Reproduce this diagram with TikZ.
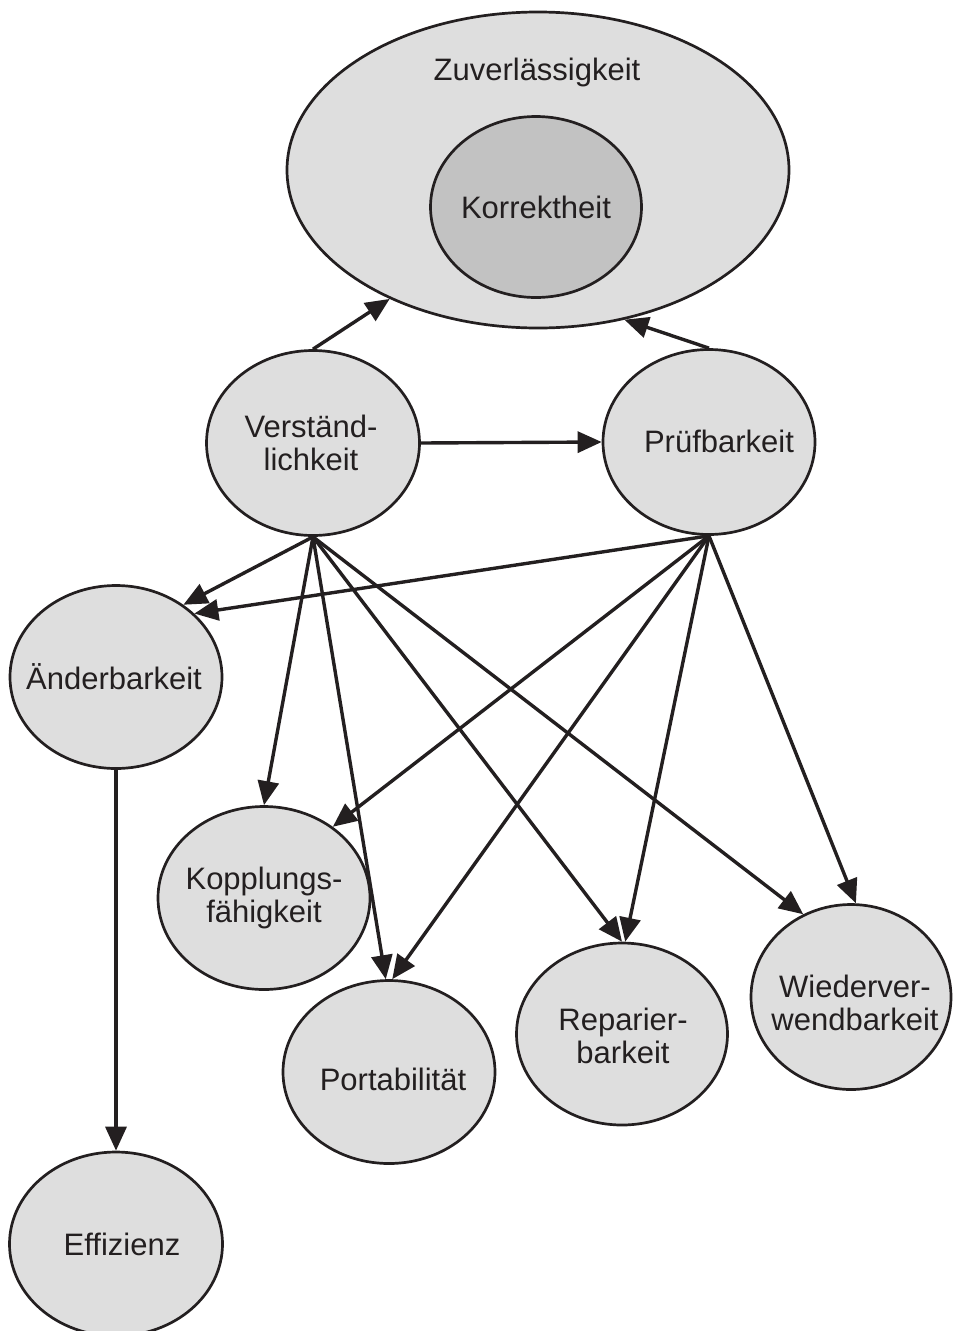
\documentclass[tikz,border=0pt]{standalone}
\usepackage{fontspec}
\setmainfont{Liberation Sans}
\usetikzlibrary{shapes.geometric,arrows.meta}
\definecolor{ink}{HTML}{231F20}
\definecolor{bubblegray}{HTML}{DEDEDE}
\definecolor{coregray}{HTML}{C2C2C2}
\begin{document}
\begin{tikzpicture}[x=1pt,y=-1pt,
  bubble/.style={ellipse, draw=ink, line width=2.7pt, fill=bubblegray, inner sep=0pt},
  txt/.style={font=\fontsize{31}{33}\selectfont, text=ink, align=center, inner sep=0pt},
  link/.style={draw=ink, line width=3.4pt, -{Triangle[length=24pt,width=21pt]}}]
\useasboundingbox (0,0) rectangle (953,1331);

% quality attributes
\node[bubble, minimum width=502pt, minimum height=316pt,
      label={[txt,xshift=-1pt,yshift=98pt]center:Zuverlässigkeit}] (Z) at (538,170) {};
\node[bubble, fill=coregray, minimum width=211pt, minimum height=181pt,
      label={[txt]center:Korrektheit}] (K) at (536,207) {};
\node[bubble, minimum width=213pt, minimum height=185pt,
      label={[txt,xshift=-2pt]center:{Verständ-\\lichkeit}}] (V) at (313,443) {};
\node[bubble, minimum width=212pt, minimum height=185pt,
      label={[txt,xshift=10pt,yshift=1pt]center:Prüfbarkeit}] (P) at (709,442) {};
\node[bubble, minimum width=212pt, minimum height=183pt,
      label={[txt,xshift=-2pt]center:Änderbarkeit}] (A) at (116,677) {};
\node[bubble, minimum width=212pt, minimum height=183pt,
      label={[txt]center:{Kopplungs-\\fähigkeit}}] (Ko) at (264,898) {};
\node[bubble, minimum width=212pt, minimum height=183pt,
      label={[txt,xshift=4pt,yshift=-7pt]center:Portabilität}] (Po) at (389,1072) {};
\node[bubble, minimum width=211pt, minimum height=182pt,
      label={[txt,xshift=1pt,yshift=-2pt]center:{Reparier-\\barkeit}}] (R) at (622,1034) {};
\node[bubble, minimum width=200pt, minimum height=185pt,
      label={[txt,xshift=4pt,yshift=-6pt]center:{Wiederver-\\wendbarkeit}}] (W) at (851,997) {};
\node[bubble, minimum width=213pt, minimum height=184pt,
      label={[txt,xshift=6pt]center:Effizienz}] (E) at (116,1244) {};

% dependencies
\draw[link] (V.north) -- (Z.221);
\draw[link] (P.north) -- (Z.300);
\draw[link] (V.east) -- (P.west);
\draw[link] (V.south) -- (A.47);
\draw[link] (P.south) -- (A.39);
\draw[link] (V.south) -- (Ko.north);
\draw[link] (V.south) -- (Po.92);
\draw[link] (V.south) -- (R.north);
\draw[link] (V.south) -- (W.120);
\draw[link] (P.south) -- (Ko.46);
\draw[link] (P.south) -- (Po.88);
\draw[link] (P.south) -- (R.88);
\draw[link] (P.south) -- (W.87);
\draw[link] (A.south) -- (E.north);
\end{tikzpicture}
\end{document}
